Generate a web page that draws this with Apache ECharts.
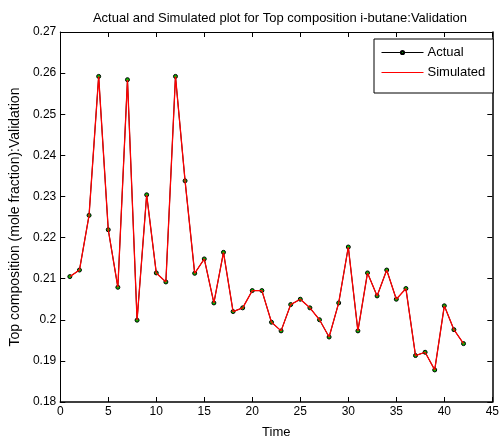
<!DOCTYPE html>
<html>
<head>
<meta charset="utf-8">
<script src="https://cdn.jsdelivr.net/npm/echarts@6/dist/echarts.min.js"></script>
<style>html,body{margin:0;padding:0;background:#fff}#c{width:502px;height:446px}</style>
</head>
<body>
<div id="c"></div>
<script>
const time = [1,2,3,4,5,6,7,8,9,10,11,12,13,14,15,16,17,18,19,20,21,22,23,24,25,26,27,28,29,30,31,32,33,34,35,36,37,38,39,40,41,42];
const actual = [0.2105,0.2121,0.2254,0.2592,0.2219,0.2079,0.2584,0.1999,0.2304,0.2114,0.2092,0.2592,0.2338,0.2113,0.2148,0.2041,0.2164,0.2020,0.2029,0.2071,0.2071,0.1994,0.1973,0.2037,0.2050,0.2029,0.2000,0.1958,0.2041,0.2177,0.1973,0.2114,0.2058,0.2121,0.2050,0.2076,0.1913,0.1921,0.1878,0.2034,0.1976,0.1942];
const simulated = [0.2105,0.2121,0.2254,0.2592,0.2219,0.2079,0.2584,0.1999,0.2304,0.2114,0.2092,0.2592,0.2338,0.2113,0.2148,0.2041,0.2164,0.2020,0.2029,0.2071,0.2071,0.1994,0.1973,0.2037,0.2050,0.2029,0.2000,0.1958,0.2041,0.2177,0.1973,0.2114,0.2058,0.2121,0.2050,0.2076,0.1913,0.1921,0.1878,0.2034,0.1976,0.1942];
const titleText = 'Actual and Simulated plot for Top composition i-butane:Validation';
const xName = 'Time';
const yName = 'Top composition (mole fraction):Validation';

const font = 'Liberation Sans';
const chart = echarts.init(document.getElementById('c'), null, {renderer:'canvas'});
const pair = (xs, ys) => xs.map((x,i)=>[x, ys[i]]);
const baseX = {type:'value', min:0, max:45, interval:5, splitLine:{show:false}};
const baseY = {type:'value', min:0.18, max:0.27, interval:0.01, splitLine:{show:false}};
chart.setOption({
  animation:false,
  backgroundColor:'#fff',
  title:{text:titleText, left:275, textAlign:'center', top:7,
    textStyle:{fontFamily:font, fontSize:13, fontWeight:'normal', color:'#000'}},
  grid:{left:60, right:6, top:32, bottom:44},
  legend:{orient:'vertical', left:374, top:39, width:104,
    backgroundColor:'#fff', borderColor:'#000', borderWidth:1, padding:[7,8,14,7],
    itemWidth:42, itemHeight:4, itemGap:7,
    textStyle:{fontFamily:font, fontSize:13, color:'#000', padding:[0,0,0,-1]},
    data:[
      {name:'Actual', lineStyle:{width:1, color:'#000'}},
      {name:'Simulated', itemStyle:{opacity:0}, lineStyle:{width:1, color:'#ff0000'}}
    ]},
  xAxis:[
    Object.assign({}, baseX, {position:'bottom', name:xName, nameLocation:'middle', nameGap:24,
      nameTextStyle:{fontFamily:font, fontSize:13, color:'#000'},
      axisLine:{lineStyle:{color:'#000', width:1.5}},
      axisTick:{inside:true, length:5, lineStyle:{color:'#000'}},
      axisLabel:{fontFamily:font, fontSize:12, color:'#000', margin:4}}),
    Object.assign({}, baseX, {position:'top',
      axisLine:{onZero:false, lineStyle:{color:'#000', width:1}},
      axisTick:{inside:true, length:5, lineStyle:{color:'#000'}},
      axisLabel:{show:false}})
  ],
  yAxis:[
    Object.assign({}, baseY, {position:'left', name:yName, nameLocation:'middle', nameGap:35, nameRotate:90,
      nameTextStyle:{fontFamily:font, fontSize:14, color:'#000'},
      axisLine:{show:true, lineStyle:{color:'#000', width:1}},
      axisTick:{show:true, inside:true, length:5, lineStyle:{color:'#000'}},
      axisLabel:{fontFamily:font, fontSize:12, color:'#000', margin:4,
        formatter:v=>String(parseFloat(v.toFixed(2)))}}),
    Object.assign({}, baseY, {position:'right',
      axisLine:{show:true, onZero:false, lineStyle:{color:'#000', width:1.5}},
      axisTick:{show:true, inside:true, length:5, lineStyle:{color:'#000'}},
      axisLabel:{show:false}})
  ],
  series:[
    {name:'Actual', type:'line', data:pair(time, actual), xAxisIndex:0, yAxisIndex:0,
      symbol:'circle', symbolSize:4, showAllSymbol:true,
      lineStyle:{color:'#000', width:1},
      itemStyle:{color:'#00c000', borderColor:'#000', borderWidth:1}, z:2},
    {name:'Simulated', type:'line', data:pair(time, simulated), xAxisIndex:0, yAxisIndex:0,
      symbol:'none', lineStyle:{color:'#ff0000', width:1.3},
      itemStyle:{color:'#ff0000'}, z:3}
  ]
});
</script>
</body>
</html>
